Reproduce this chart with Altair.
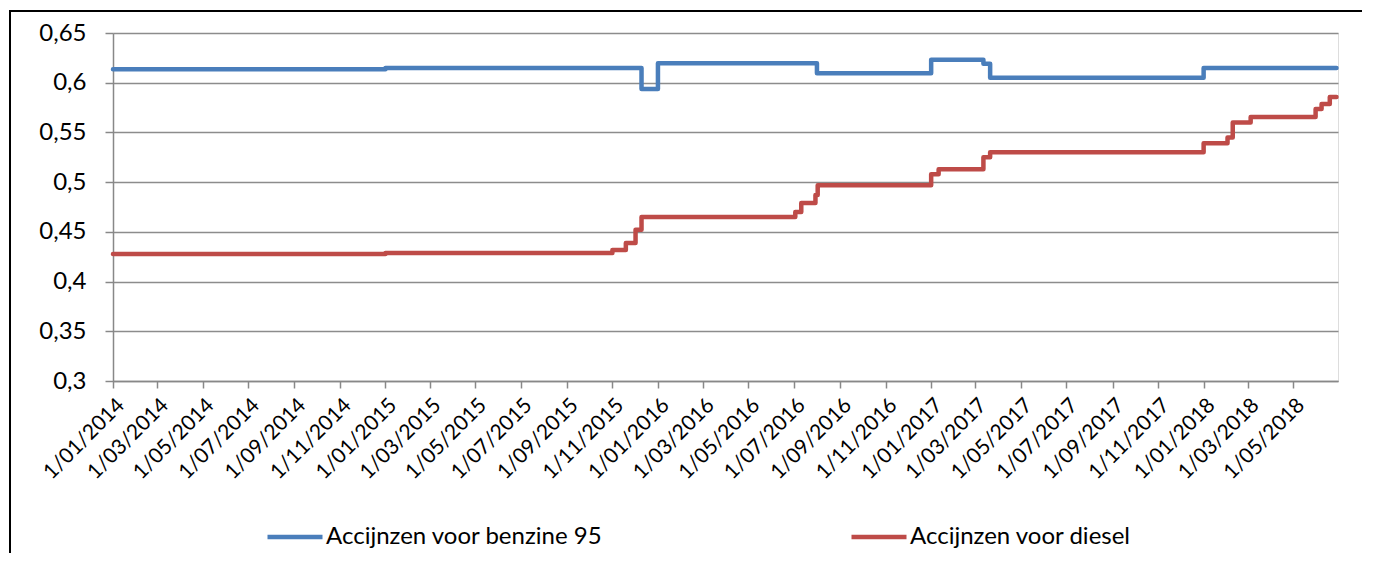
import altair as alt
import pandas as pd

benzine_dates = ["2014-01-01", "2015-01-01", "2015-12-10", "2016-01-01", "2016-08-01",
                 "2017-01-01", "2017-03-12", "2017-03-21", "2018-01-01", "2018-06-28"]
benzine_values = [0.6135, 0.6147, 0.5937, 0.6195, 0.6095, 0.6230, 0.6190, 0.6050, 0.6147, 0.6147]

diesel_dates = ["2014-01-01", "2015-01-01", "2015-11-01", "2015-11-19", "2015-12-02", "2015-12-10",
                "2016-07-03", "2016-07-11", "2016-07-30", "2016-08-02", "2017-01-01", "2017-01-11",
                "2017-03-12", "2017-03-21", "2018-01-01", "2018-02-02", "2018-02-09", "2018-03-05",
                "2018-05-31", "2018-06-08", "2018-06-19", "2018-06-28"]
diesel_values = [0.4277, 0.4288, 0.4317, 0.4388, 0.4520, 0.4650,
                 0.4700, 0.4790, 0.4870, 0.4970, 0.5080, 0.5130,
                 0.5250, 0.5300, 0.5390, 0.5450, 0.5600, 0.5655,
                 0.5735, 0.5786, 0.5856, 0.5856]

series_names = ["Accijnzen voor benzine 95", "Accijnzen voor diesel"]
series_colors = ["#4A7EBB", "#BE4B48"]

tick_months = [(y, m) for y in range(2014, 2019) for m in (1, 3, 5, 7, 9, 11) if (y, m) <= (2018, 5)]

rows = []
for d, v in zip(benzine_dates, benzine_values):
    rows.append({"date": d + "T00:00:00", "value": v, "serie": series_names[0]})
for d, v in zip(diesel_dates, diesel_values):
    rows.append({"date": d + "T00:00:00", "value": v, "serie": series_names[1]})
df = pd.DataFrame(rows)

FONT = "Lato"

lines = alt.Chart(df).mark_line(interpolate="step-after", strokeWidth=4.5, strokeCap="round",
                                strokeJoin="round").encode(
    x=alt.X("date:T", title=None,
            scale=alt.Scale(domain=[alt.DateTime(year=2014, month=1, date=1),
                                    alt.DateTime(year=2018, month=6, date=30)], nice=False),
            axis=alt.Axis(values=[alt.DateTime(year=y, month=m, date=1) for y, m in tick_months],
                          format="1/%m/%Y", labelAngle=-45, labelFontSize=21, labelFont=FONT,
                          labelColor="#000000", grid=False, domainColor="#888888", domainWidth=1.5,
                          tickColor="#888888", tickSize=7, tickWidth=1.5, labelPadding=6,
                          labelOverlap=False, labelFlush=False)),
    y=alt.Y("value:Q", title=None,
            scale=alt.Scale(domain=[0.3, 0.65], nice=False, zero=False),
            axis=alt.Axis(values=[0.3, 0.35, 0.4, 0.45, 0.5, 0.55, 0.6, 0.65],
                          labelExpr="replace(format(datum.value, '.2~f'), '.', ',')",
                          labelFontSize=24, labelFont=FONT, labelColor="#000000",
                          gridColor="#8C8C8C", gridWidth=1.5, domainColor="#888888", domainWidth=1.5,
                          tickColor="#888888", tickSize=8, tickWidth=1.5, labelPadding=19)),
    color=alt.Color("serie:N", title=None,
                    scale=alt.Scale(domain=series_names, range=series_colors),
                    legend=alt.Legend(orient="none", legendX=152, legendY=474,
                                      direction="horizontal", symbolType="stroke",
                                      symbolSize=3025, symbolStrokeWidth=4.5,
                                      labelFont=FONT, labelFontSize=24, labelColor="#000000",
                                      columnPadding=239, labelOffset=1, labelLimit=400)),
)

frame_v = alt.Chart(pd.DataFrame({"a": [0]})).mark_rule(stroke="#000000", strokeWidth=2).encode(
    x=alt.value(-103), x2=alt.value(-103), y=alt.value(-23), y2=alt.value(520)
)
frame_h = alt.Chart(pd.DataFrame({"a": [0]})).mark_rule(stroke="#000000", strokeWidth=2).encode(
    x=alt.value(-104), x2=alt.value(1250), y=alt.value(-22), y2=alt.value(-22)
)

chart = alt.layer(frame_v, frame_h, lines).properties(
    width=1225, height=348,
    autosize=alt.AutoSizeParams(type="none"),
    padding={"left": 105, "top": 25, "right": 24, "bottom": 172},
).configure_view(stroke=None).configure(background="#ffffff")

chart.save("out.html", embed_options={"renderer": "svg", "actions": False})
